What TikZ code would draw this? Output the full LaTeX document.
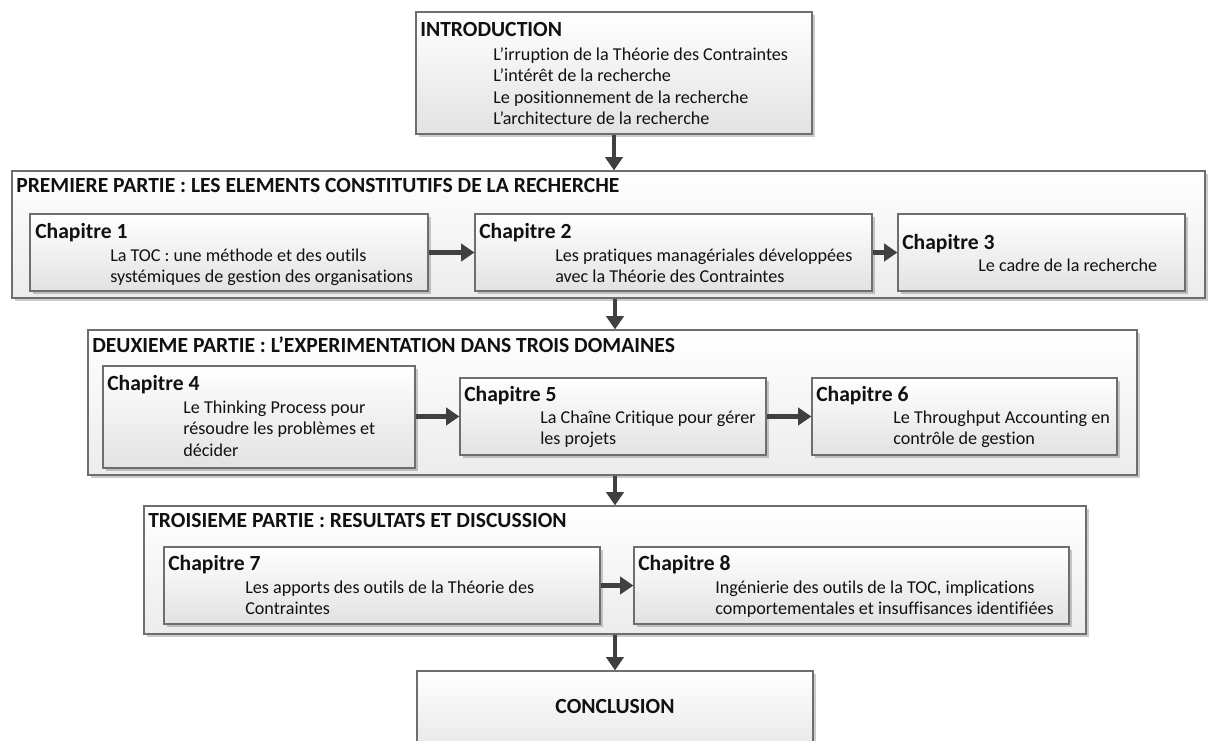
\documentclass[tikz,border=0pt]{standalone}
\usepackage{fontspec}
\setmainfont{Carlito}[Ligatures=NoCommon]
\usetikzlibrary{arrows.meta,shadows,fit,calc}
\definecolor{bordergray}{HTML}{6E6E6E}
\definecolor{arrowgray}{HTML}{404040}
\definecolor{fillbot}{HTML}{E2E2E2}
\definecolor{fillbotpart}{HTML}{ECECEC}
\definecolor{textcol}{HTML}{111111}
\tikzset{
  boxbase/.style={draw=bordergray, line width=0.9pt, inner sep=0pt, rectangle,
    drop shadow={shadow xshift=2pt, shadow yshift=-2pt, opacity=0.2, fill=black}},
  partbox/.style={boxbase, top color=white, bottom color=fillbotpart},
  chapbox/.style={boxbase, top color=white, bottom color=fillbot},
  ttl/.style={font=\fontsize{16.2}{19}\selectfont\bfseries, text=textcol, inner sep=0pt, anchor=base west},
  body/.style={font=\fontsize{13.6}{16}\selectfont, text=textcol, inner sep=0pt, anchor=base west},
  arr/.style={draw=arrowgray, line width=3.6pt, -{Triangle[width=13pt,length=10pt]}},
}
\begin{document}
\begin{tikzpicture}[x=0.75pt,y=-0.75pt]
\useasboundingbox (0,0) rectangle (1208,740);
% boxes
\node[chapbox, fit={(416,12) (812,134)}] (intro) {};
\node[partbox, fit={(12,171) (1205,298)}] (part1) {};
\node[chapbox, fit={(30,214) (428,291)}] (ch1) {};
\node[chapbox, fit={(475,214) (872,291)}] (ch2) {};
\node[chapbox, fit={(898,214) (1185,291)}] (ch3) {};
\node[partbox, fit={(88,330) (1137,475)}] (part2) {};
\node[chapbox, fit={(103,366) (415,468)}] (ch4) {};
\node[chapbox, fit={(460,378) (766,455)}] (ch5) {};
\node[chapbox, fit={(812,378) (1117,455)}] (ch6) {};
\node[partbox, fit={(144,506) (1086,634)}] (part3) {};
\node[chapbox, fit={(164,547) (600,624)}] (ch7) {};
\node[chapbox, fit={(634,547) (1069,624)}] (ch8) {};
\node[chapbox, fit={(417,671) (813,770)}] (concl) {};
% arrows
\draw[arr] (intro.south) -- (intro.south |- part1.north);
\draw[arr] (part1.south -| concl.north) -- (part2.north -| concl.north);
\draw[arr] (part2.south -| concl.north) -- (part3.north -| concl.north);
\draw[arr] (part3.south -| concl.north) -- (concl.north);
\draw[arr] (ch1.east) -- (ch2.west);
\draw[arr] (ch2.east) -- (ch3.west);
\draw[arr] (ch4.east |- ch5.west) -- (ch5.west);
\draw[arr] (ch5.east) -- (ch6.west);
\draw[arr] (ch7.east) -- (ch8.west);
% intro text
\node[ttl] (t-intro) at (420,36) {INTRODUCTION};
\node[body] (t-intro1) at (493,60) {L’irruption de la Théorie des Contraintes};
\node[body] (t-intro2) at (493,81) {L’intérêt de la recherche};
\node[body] (t-intro3) at (493,103) {Le positionnement de la recherche};
\node[body] (t-intro4) at (493,124) {L’architecture de la recherche};
% part 1
\node[ttl] (t-p1) at (16,192) {PREMIERE PARTIE : LES ELEMENTS CONSTITUTIFS DE LA RECHERCHE};
\node[ttl] (t-c1) at (35,238) {Chapitre 1};
\node[body] (t-c1a) at (110,261) {La TOC : une méthode et des outils};
\node[body] (t-c1b) at (110,282) {systémiques de gestion des organisations};
\node[ttl] (t-c2) at (479,238) {Chapitre 2};
\node[body] (t-c2a) at (555,261) {Les pratiques managériales développées};
\node[body] (t-c2b) at (555,282) {avec la Théorie des Contraintes};
\node[ttl] (t-c3) at (902,249) {Chapitre 3};
\node[body] (t-c3a) at (978,271) {Le cadre de la recherche};
% part 2
\node[ttl] (t-p2) at (92,352) {DEUXIEME PARTIE : L’EXPERIMENTATION DANS TROIS DOMAINES};
\node[ttl] (t-c4) at (107,390) {Chapitre 4};
\node[body] (t-c4a) at (183,413) {Le Thinking Process pour};
\node[body] (t-c4b) at (183,434) {résoudre les problèmes et};
\node[body] (t-c4c) at (183,456) {décider};
\node[ttl] (t-c5) at (464,401) {Chapitre 5};
\node[body] (t-c5a) at (540,423) {La Chaîne Critique pour gérer};
\node[body] (t-c5b) at (540,444) {les projets};
\node[ttl] (t-c6) at (816,401) {Chapitre 6};
\node[body] (t-c6a) at (893,423) {Le Throughput Accounting en};
\node[body] (t-c6b) at (893,444) {contrôle de gestion};
% part 3
\node[ttl] (t-p3) at (148,527) {TROISIEME PARTIE : RESULTATS ET DISCUSSION};
\node[ttl] (t-c7) at (168,570) {Chapitre 7};
\node[body] (t-c7a) at (245,593) {Les apports des outils de la Théorie des};
\node[body] (t-c7b) at (245,614) {Contraintes};
\node[ttl] (t-c8) at (638,570) {Chapitre 8};
\node[body] (t-c8a) at (715,593) {Ingénierie des outils de la TOC, implications};
\node[body] (t-c8b) at (715,614) {comportementales et insuffisances identifiées};
% conclusion
\node[ttl, anchor=base] (t-concl) at (615,713) {CONCLUSION};
\end{tikzpicture}
\end{document}
